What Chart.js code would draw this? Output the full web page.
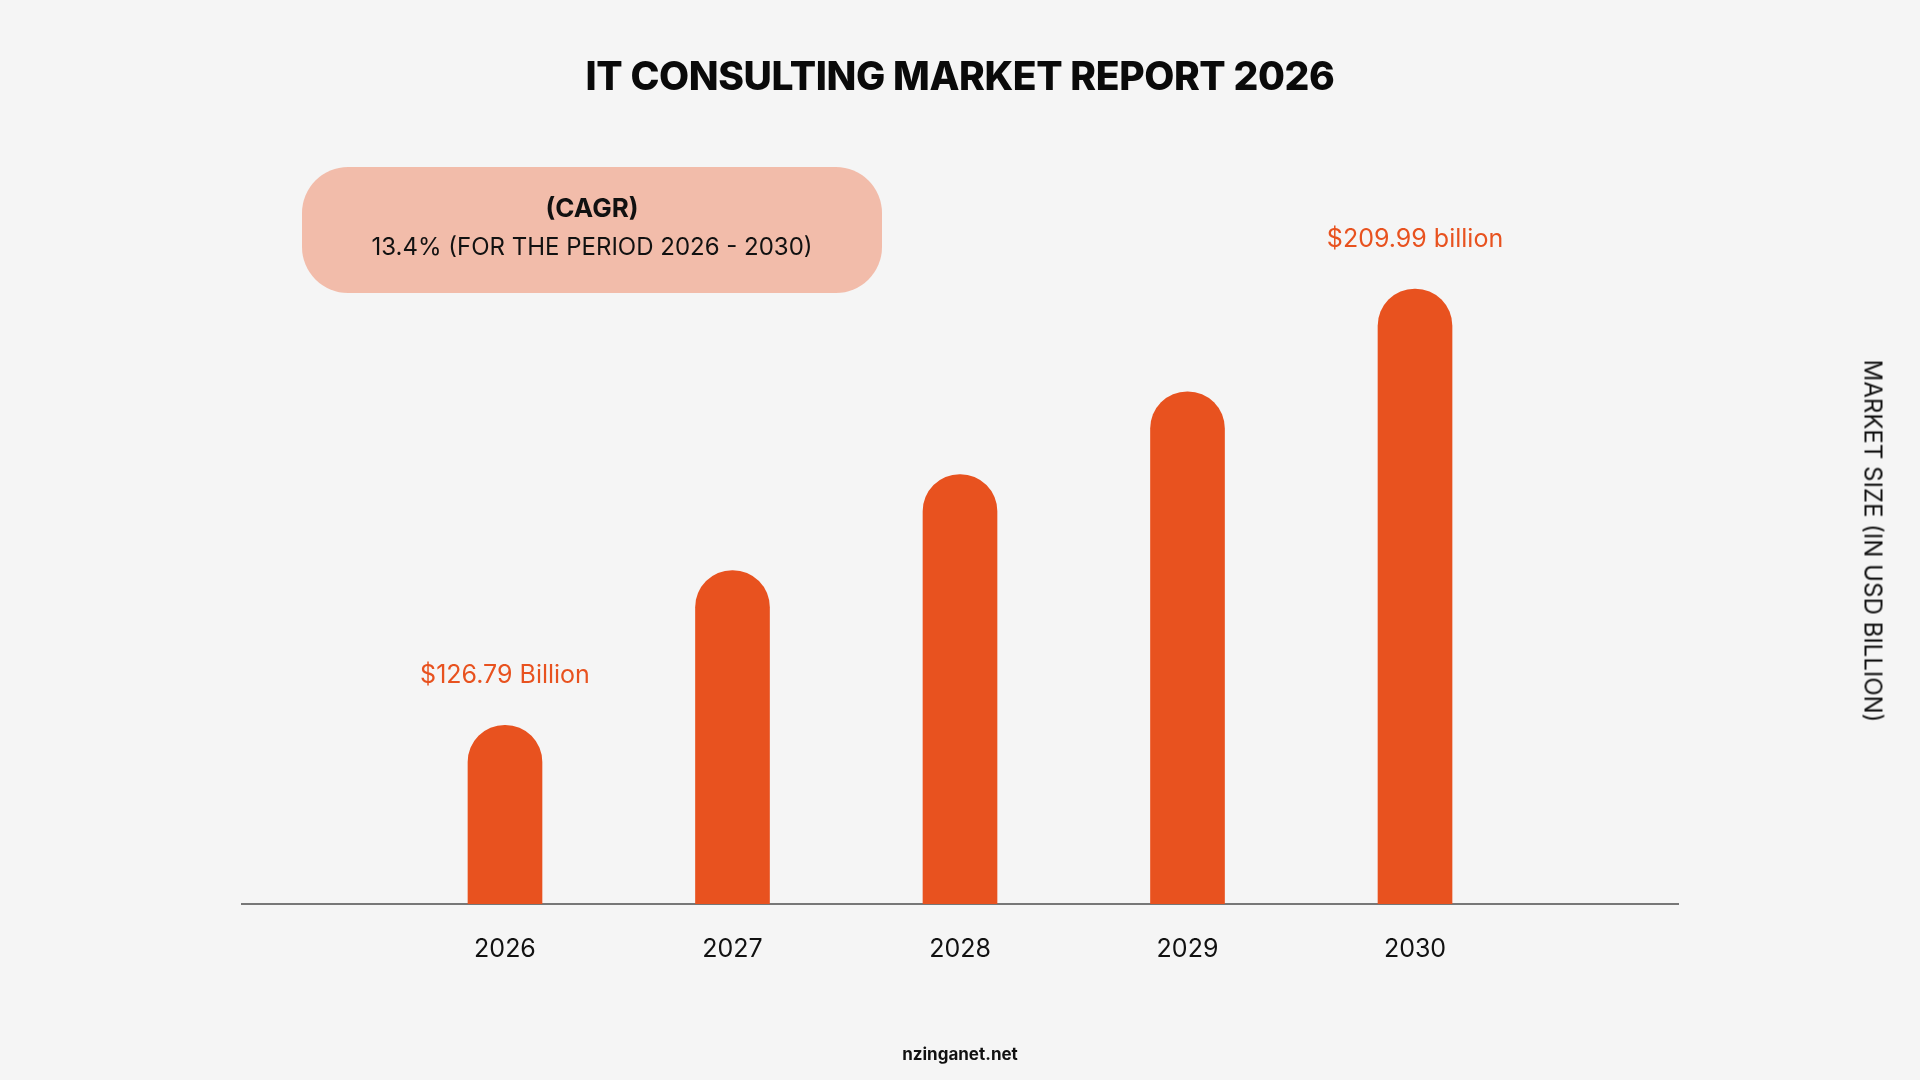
<!DOCTYPE html>
<html>
<head>
<meta charset="utf-8">
<script src="https://cdn.jsdelivr.net/npm/chart.js@4"></script>
<style>
  body { margin: 0; background: #f5f5f5; font-family: Inter, "Open Sans", sans-serif; }
  #wrap { position: relative; width: 1920px; height: 1080px; overflow: hidden; }
  #chart { position: absolute; left: 0; top: 0; }
  .title { position: absolute; left: 0; width: 1920px; top: 52px; text-align: center;
           font-size: 39px; font-weight: 800; color: #0a0a0a; letter-spacing: -0.4px; }
  .cagr { position: absolute; left: 302px; top: 167px; width: 580px; height: 126px;
          border-radius: 46px; background: #f2bcaa; text-align: center; color: #111; }
  .cagr .l1 { position: absolute; left: 0; right: 0; top: 25px; font-size: 26px; font-weight: 700; }
  .cagr .l2 { position: absolute; left: 0; right: 0; top: 65px; font-size: 24px; }
  .side { position: absolute; left: 1873px; top: 541px; transform: translate(-50%, -50%) rotate(90deg);
          white-space: nowrap; font-size: 24px; color: #111; }
  .foot { position: absolute; left: 0; width: 1920px; top: 1044px; text-align: center;
          font-size: 17px; font-weight: 700; color: #111; }
</style>
</head>
<body>
<div id="wrap">
  <canvas id="chart" width="1920" height="1080"></canvas>
  <div class="title">IT CONSULTING MARKET REPORT 2026</div>
  <div class="cagr">
    <div class="l1">(CAGR)</div>
    <div class="l2">13.4% (FOR THE PERIOD 2026 - 2030)</div>
  </div>
  <div class="side">MARKET SIZE (IN USD BILLION)</div>
  <div class="foot">nzinganet.net</div>
</div>
<script>
// dữ liệu
const years = [2026, 2027, 2028, 2029, 2030];
const marketSize = [126.79, 156.3, 174.6, 190.4, 209.99];
const valueLabels = ['$126.79 Billion', '', '', '', '$209.99 billion'];

const barColor = '#e8521f';

// Plugin ghi nhãn giá trị trên cột
const valueLabelPlugin = {
    id: 'valueLabels',
    afterDatasetsDraw(chart) {
        const ctx = chart.ctx;
        const meta = chart.getDatasetMeta(0);
        meta.data.forEach((bar, i) => {
            const text = valueLabels[i];
            if (!text) return;
            ctx.save();
            ctx.font = '25px Inter, "Open Sans", sans-serif';
            ctx.fillStyle = barColor;
            ctx.textAlign = 'center';
            ctx.textBaseline = 'middle';
            ctx.fillText(text, bar.x, bar.y - 50);
            ctx.restore();
        });
    }
};

new Chart(document.getElementById('chart'), {
    type: 'bar',
    data: {
        datasets: [{
            data: years.map((y, i) => ({ x: y, y: marketSize[i] })),
            backgroundColor: barColor,
            barThickness: 74,
            borderRadius: 37,
            borderSkipped: 'bottom'
        }]
    },
    options: {
        responsive: false,
        animation: false,
        layout: { padding: { left: 242, right: 242, top: 150, bottom: 86 } },
        plugins: { legend: { display: false }, tooltip: { enabled: false } },
        scales: {
            x: {
                type: 'linear',
                offset: false,
                min: 2024.844,
                max: 2031.156,
                grid: { display: false, drawTicks: false },
                border: { display: true, color: '#777777', width: 2 },
                afterBuildTicks: axis => { axis.ticks = years.map(v => ({ value: v })); },
                ticks: {
                    padding: 30,
                    color: '#111111',
                    font: { family: 'Inter, "Open Sans", sans-serif', size: 25 },
                    callback: v => String(v)
                }
            },
            y: {
                display: false,
                min: 92.7,
                max: 236.5
            }
        }
    },
    plugins: [valueLabelPlugin]
});
</script>
</body>
</html>
